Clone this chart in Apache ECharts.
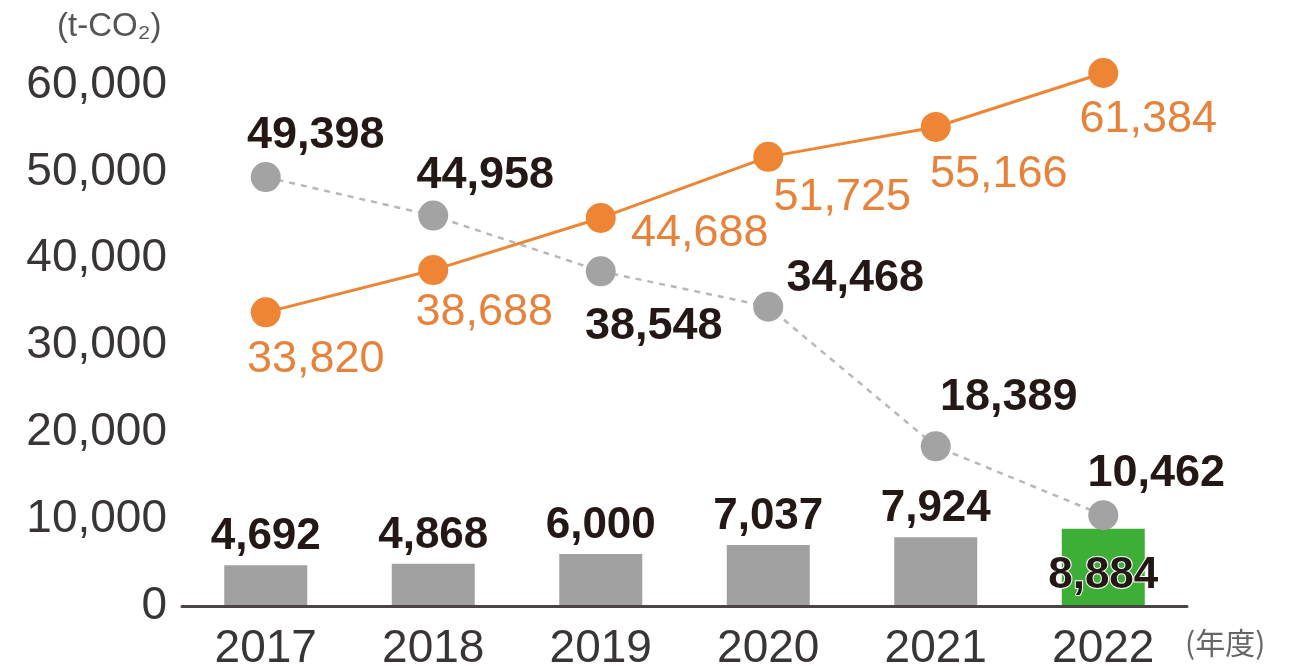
<!DOCTYPE html>
<html>
<head>
<meta charset="utf-8">
<script src="https://cdn.jsdelivr.net/npm/echarts@6/dist/echarts.min.js"></script>
<style>
html,body{margin:0;padding:0;background:#fff;}
#chart{width:1294px;height:666px;}
</style>
</head>
<body>
<div id="chart"></div>
<script>
const years = ['2017', '2018', '2019', '2020', '2021', '2022'];
const barValues = [4692, 4868, 6000, 7037, 7924, 8884];
const grayValues = [49398, 44958, 38548, 34468, 18389, 10462];
const orangeValues = [33820, 38688, 44688, 51725, 55166, 61384];
const yTicks = [0, 10000, 20000, 30000, 40000, 50000, 60000];
const unitLabel = '(t-CO₂)';
const xUnitLabel = '(年度)';

// label offsets (styling)
const grayOffsets = [[50, -41], [52, -40], [53, 55], [87, -28], [73, -49], [53, -42]];
const orangeOffsets = [[50, 47], [51, 43], [99, 16], [74, 41], [63, 48], [45, 47]];

const FONT = '"Liberation Sans", Arial, Helvetica, sans-serif';
const fmt = v => Number(v).toLocaleString('en-US');

const chart = echarts.init(document.getElementById('chart'));

const barData = barValues.map((v, i) => {
  const last = i === barValues.length - 1;
  return {
    value: v,
    itemStyle: { color: last ? '#3dae36' : '#a0a0a0' },
    label: last ? {
      position: 'insideTop', offset: [0, 20],
      textBorderColor: '#ffffff', textBorderWidth: 2
    } : { position: 'top', distance: 6 }
  };
});

const grayData = grayValues.map((v, i) => ({
  value: v,
  label: { offset: grayOffsets[i] }
}));
const orangeData = orangeValues.map((v, i) => ({
  value: v,
  label: { offset: orangeOffsets[i] }
}));

chart.setOption({
  animation: false,
  backgroundColor: '#ffffff',
  grid: { left: 182, right: 107, top: 85, bottom: 60, containLabel: false, outerBoundsMode: 'none' },
  xAxis: {
    type: 'category',
    data: years,
    z: 5,
    axisLine: { lineStyle: { color: '#4a4444', width: 3 } },
    axisTick: { show: false },
    axisLabel: {
      fontFamily: FONT, fontSize: 46, color: '#3a3535',
      margin: 20, verticalAlign: 'top', lineHeight: 46
    }
  },
  yAxis: {
    type: 'value',
    min: 0, max: 60000, interval: 10000,
    axisLine: { show: false },
    axisTick: { show: false },
    splitLine: { show: false },
    axisLabel: {
      fontFamily: FONT, fontSize: 46, color: '#3a3535', margin: 15,
      formatter: v => yTicks.indexOf(v) >= 0 ? fmt(v) : ''
    }
  },
  graphic: [
    {
      type: 'text', left: 57, top: 10,
      style: { text: unitLabel, font: '33px ' + FONT, fill: '#555' }
    },
    {
      type: 'text', left: 1185, top: 628,
      style: { text: xUnitLabel, font: '30px "Noto Sans CJK JP", sans-serif', fill: '#666' }
    }
  ],
  series: [
    {
      type: 'bar',
      data: barData,
      barWidth: 83,
      z: 2,
      label: {
        show: true, formatter: p => fmt(p.value),
        fontFamily: FONT, fontSize: 44, fontWeight: 'bold', color: '#231815'
      }
    },
    {
      type: 'line',
      data: grayData,
      clip: false,
      z: 3,
      symbol: 'circle', symbolSize: 30,
      itemStyle: { color: '#a3a3a3' },
      lineStyle: { color: '#b8b8b8', width: 2.5, type: [6, 6] },
      label: {
        show: true, position: 'inside', formatter: p => fmt(p.value),
        fontFamily: FONT, fontSize: 45, fontWeight: 'bold', color: '#231815'
      }
    },
    {
      type: 'line',
      data: orangeData,
      clip: false,
      z: 4,
      symbol: 'circle', symbolSize: 30,
      itemStyle: { color: '#ee8535' },
      lineStyle: { color: '#ee8535', width: 3 },
      label: {
        show: true, position: 'inside', formatter: p => fmt(p.value),
        fontFamily: FONT, fontSize: 45, color: '#e8823a'
      }
    }
  ]
});
</script>
</body>
</html>
